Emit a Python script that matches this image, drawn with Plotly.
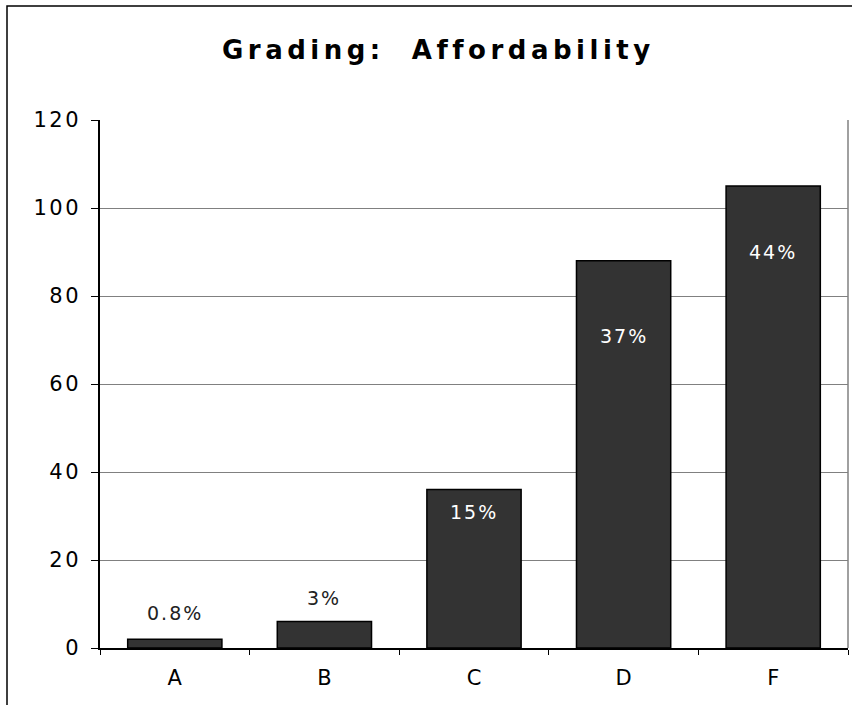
import plotly.graph_objects as go

# ---- data ----
categories = ["A", "B", "C", "D", "F"]
counts = [2, 6, 36, 88, 105]
pct_labels = ["0.8%", "3%", "15%", "37%", "44%"]
label_y = [8, 11.4, 31, 71, 90]          # annotation anchor (data units)
label_colors = ["#222222", "#222222", "white", "white", "white"]
y_ticks = [0, 20, 40, 60, 80, 100, 120]
title_text = "Grading:  Affordability"

W, H = 852, 705
L, R, T, B = 100, 4, 120, 57
pw, ph = W - L - R, H - T - B

def px_to_paper_x(px):
    return (px - L) / pw

def px_to_paper_y(py):
    return (H - B - py) / ph

def spaced(s, sp):
    return f'<span style="letter-spacing:{sp}px">{s}</span>'

fig = go.Figure()
fig.add_trace(go.Bar(
    x=categories, y=counts,
    marker=dict(color="#333333", line=dict(color="black", width=1.5)),
    hoverinfo="skip",
))

annotations = []
for c, ly, t, col in zip(categories, label_y, pct_labels, label_colors):
    annotations.append(dict(
        x=c, y=ly, xref="x", yref="y", text=spaced(t, 2), showarrow=False,
        font=dict(family="DejaVu Sans", size=19, color=col),
        xanchor="center", yanchor="middle",
    ))
annotations.append(dict(
    x=px_to_paper_x(438), y=px_to_paper_y(50), xref="paper", yref="paper",
    text="<b>" + spaced(title_text, 4.5) + "</b>", showarrow=False,
    font=dict(family="DejaVu Sans", size=26, color="black"),
    xanchor="center", yanchor="middle",
))

shapes = [
    # right border of the plot area
    dict(type="line", xref="paper", yref="paper", x0=1, x1=1, y0=0, y1=1,
         line=dict(color="#808080", width=1.5)),
    # outer chart border (extends beyond the visible frame)
    dict(type="rect", xref="paper", yref="paper",
         x0=px_to_paper_x(7), x1=px_to_paper_x(880),
         y0=px_to_paper_y(730), y1=px_to_paper_y(6),
         line=dict(color="black", width=1.5), fillcolor="rgba(0,0,0,0)", layer="above"),
]

fig.update_layout(
    width=W, height=H,
    margin=dict(l=L, r=R, t=T, b=B, pad=0),
    paper_bgcolor="white", plot_bgcolor="white",
    showlegend=False,
    bargap=0.37,
    annotations=annotations,
    shapes=shapes,
    font=dict(family="DejaVu Sans", color="black"),
)
fig.update_xaxes(
    type="category", range=[-0.5, 4.5],
    tickson="boundaries", ticks="outside", ticklen=5, tickcolor="black", tickwidth=1,
    showline=True, linecolor="black", linewidth=1.5,
    showgrid=False, zeroline=False,
    tickfont=dict(family="DejaVu Sans", size=21, color="black"),
    ticklabelstandoff=10,
)
fig.update_yaxes(
    range=[0, 120], tickvals=y_ticks,
    ticktext=[spaced(str(v), 2.5) for v in y_ticks],
    ticks="outside", ticklen=7, tickcolor="black", tickwidth=1,
    showline=True, linecolor="black", linewidth=1.5,
    showgrid=True, gridcolor="#808080", gridwidth=1,
    zeroline=False,
    tickfont=dict(family="DejaVu Sans", size=21, color="black"),
    ticklabelstandoff=6,
)

fig.write_html("out.html")
